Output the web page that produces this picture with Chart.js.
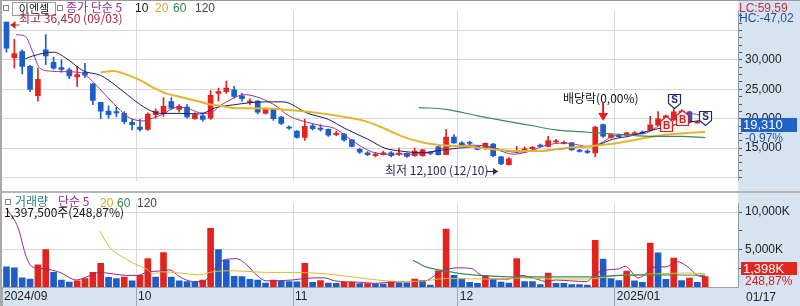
<!DOCTYPE html>
<html><head><meta charset="utf-8">
<script src="https://cdn.jsdelivr.net/npm/chart.js@4.4.1/dist/chart.umd.min.js"></script>
<style>
body{margin:0;background:#fff}
#wrap{position:relative;width:800px;height:306px;overflow:hidden;background:#fff;font-family:"Liberation Sans Narrow","Liberation Sans","Noto Sans CJK KR",sans-serif}
.a{position:absolute;white-space:nowrap;line-height:1}
canvas{position:absolute;left:0}
.k{font-family:"Noto Sans CJK KR","Liberation Sans",sans-serif}
</style></head><body>
<div id="wrap">
<div class="a" style="left:738px;top:0;width:62px;height:306px;background:#d7e3f1"></div>
<div class="a" style="left:0;top:287px;width:800px;height:19px;background:#d7e3f1"></div>
<canvas id="pc" width="800" height="191" style="top:0"></canvas>
<canvas id="vc" width="800" height="113" style="top:193px"></canvas>
<div class="a" style="left:0;top:0;width:800px;height:1px;background:#9a9a9a"></div>
<div class="a" style="left:0;top:0;width:2px;height:306px;background:#a8a8a8"></div>
<div class="a" style="left:0;top:191px;width:800px;height:2px;background:#b4b4b4"></div>

<div class="a" style="left:3px;top:5px;width:4px;height:4px;border:1px solid #888"></div>
<div class="a k" style="left:12px;top:2px;width:42px;height:12px;border:1px solid #999;background:#fff;font-size:11px;text-align:center;color:#111">이엔셀</div>
<div class="a" style="left:57px;top:5px;width:4px;height:4px;border:1px solid #888"></div>
<div class="a k" style="left:66px;top:1px;font-size:12px;color:#9a2a8a">종가 단순 5</div>
<div class="a" style="left:135px;top:2px;font-size:12px;color:#111">10</div>
<div class="a" style="left:155px;top:2px;font-size:12px;color:#d8a820">20</div>
<div class="a" style="left:173px;top:2px;font-size:12px;color:#2f7f4f">60</div>
<div class="a" style="left:195px;top:2px;font-size:12px;color:#444">120</div>
<div class="a k" style="left:19px;top:12px;font-size:12px;color:#a0283c">최고 36,450 (09/03)</div>
<div class="a k" style="left:385px;top:164px;font-size:12px;color:#2a2a5a">최저 12,100 (12/10)</div>
<div class="a k" style="left:563px;top:92px;font-size:12px;color:#111">배당락(0,00%)</div>

<div class="a" style="left:5px;top:199px;width:4px;height:4px;border:1px solid #888"></div>
<div class="a k" style="left:15px;top:195px;font-size:12px;color:#2a8080">거래량</div>
<div class="a k" style="left:58px;top:195px;font-size:12px;color:#9a2a8a">단순 5</div>
<div class="a" style="left:100px;top:197px;font-size:12px;color:#d8a820">20</div>
<div class="a" style="left:117px;top:197px;font-size:12px;color:#2f7f4f">60</div>
<div class="a" style="left:137px;top:197px;font-size:12px;color:#444">120</div>
<div class="a k" style="left:4px;top:206px;font-size:12px;color:#111">1,397,500주(248,87%)</div>

<div class="a" style="left:739px;top:2px;font-size:12px;color:#c0303a">LC:59,59</div>
<div class="a" style="left:739px;top:12px;font-size:12px;color:#1f4f9f">HC:-47,02</div>
<div class="a" style="left:741px;top:118px;width:56px;height:14px;background:#1f63c6;font-size:13px;color:#fff;padding-left:2px;box-sizing:border-box;line-height:14px">19,310</div>
<div class="a" style="left:745px;top:132px;font-size:12px;color:#2050b0">-0,97%</div>
<div class="a" style="left:741px;top:262px;width:56px;height:13px;background:#e3261f;font-size:13px;color:#fff;padding-left:2px;box-sizing:border-box;line-height:13px">1,398K</div>
<div class="a" style="left:745px;top:275px;font-size:12px;color:#d02020">248,87%</div>
<div class="a" style="left:746px;top:291px;font-size:12px;color:#222">01/17</div>
</div>
<script>
// ---- data ----
const opens  = [36450,30400,31400,28900,23900,31700,29600,28700,28300,27100,27900,25900,22800,21300,21200,20900,19400,18600,18200,20700,20900,22900,21600,22000,20000,20500,20100,24300,24600,24900,23900,22800,23000,20900,21600,20300,18600,17900,16800,18800,18400,18200,17300,17400,16400,14800,14200,13700,13900,14200,14000,14100,13700,13700,14300,15200,13900,16900,15900,16000,15300,14900,15700,13500,12200,14400,14700,14900,15500,15300,16050,15800,15900,14650,14500,14200,19000,16800,17200,17200,17400,17750,18100,18900,20200,19800,20800,21170,19300,19500];
const highs  = [36450,33500,31700,29100,28600,34300,30500,30000,28600,28900,29400,26000,22800,22200,22000,21200,19900,19900,21000,21700,23600,23600,22400,22400,21000,20900,24800,25200,26400,25500,24300,23400,23100,21800,21700,20400,18800,18000,19900,19100,19000,18300,17900,17500,16500,15000,14400,14300,14500,14400,15000,14200,15000,14800,14400,15300,18200,17300,16100,16200,15400,15900,15800,13600,13400,15300,15200,15300,15700,17000,16500,16200,16000,14800,14700,18700,19100,17400,17400,17700,17800,17900,20400,21200,20600,21700,21500,21300,19600,19700];
const lows   = [31300,28600,27600,24600,23000,29200,28400,27900,26800,25500,27000,22400,20000,20100,20300,19100,18100,17900,18000,20100,20400,21600,21100,20100,19900,19600,19900,23000,24300,23500,23000,22400,20800,20800,19700,19000,18200,16700,16300,18100,17900,17000,17100,16200,15200,14100,13700,13500,13800,13500,13700,13400,13600,13600,13900,13800,13900,15800,15400,15600,14700,14800,13500,12200,12100,14200,14300,14700,15200,15200,15900,15700,14600,14300,14100,13500,16800,16700,16800,17100,17300,17400,18000,18800,20000,19700,20500,19300,19250,19100];
const closes = [32000,31100,28900,25000,26700,30700,28600,28400,27300,27500,27400,23100,21300,20700,21000,19500,19000,18200,20800,21300,22100,21800,22100,20300,20700,19900,24000,24600,25200,23800,23400,23000,21100,21600,20000,19200,18400,16800,18700,18300,18200,17200,17500,16400,15300,14300,13900,14000,14200,13700,14100,13600,14500,14700,14100,13900,16900,15900,15600,15800,14800,15800,13700,12300,13200,14600,14850,15150,15300,16300,16250,16000,14700,14450,14250,18600,17050,17300,16950,17600,17600,17500,18950,20000,20500,21170,21300,19400,19500,19310];
const volumesK = [2680,2560,1220,1060,2970,5000,1950,940,650,820,1140,1950,3170,1300,1140,1340,820,1550,3780,1340,4600,1340,820,730,610,940,7850,5000,3580,1430,1400,1010,940,520,940,820,730,700,3170,610,850,520,490,610,620,450,460,410,400,730,570,560,1060,850,240,2160,7720,1550,1140,610,490,1550,1010,650,520,3780,730,720,330,1870,490,480,330,320,240,6220,3740,1140,850,2110,820,610,5860,4550,1010,3870,850,1180,610,1398];

// moving-average lines (candle index, value)
const ma5I  = [1.2,2.4,3.3,4.2,5.5,7.2,9.4,11,12.8,14.5,15.7,17.4,18.7,20,21.7,23,24.6,25.9,27.2,28.9,30.2,31.8,34,36.1,38.4,40,41.8,43.5,45.2,46.9,49.5,51.6,53.8,56.3,58.9,61.5,63,64.6,66.7,68.8,71,73,74.3,75.6,77.3,79.4,81.5,83.7,85.8,87.5,89];
const ma5V  = [34300,34000,31500,28700,28100,28000,27850,26300,23750,21430,20140,19630,20140,20820,21940,21790,21020,20910,22200,23490,24100,23750,22450,20400,19370,18860,18350,16800,15260,14230,13970,13970,14230,15260,15500,15300,14500,13970,14490,15500,15880,15500,15200,15770,17050,17310,17570,19370,20500,20820,20300];
const ma10I = [2.4,3.4,6,7.7,9.8,12,14,16.2,17.9,19.6,22,24.6,26.8,28.9,31,33,35.2,38.4,41,43.1,46,48.2,50.3,52.8,55.4,57.5,59.6,62,64.6,68.8,73,75.2,77.3,79.4,81.5,84,86.6,89];
const ma10V = [30180,30700,31320,30180,28130,27360,25560,23220,21680,20910,20910,20820,21940,22360,22720,22870,22870,20910,19890,18350,16540,15000,14490,14230,14640,15000,15150,15000,14340,14640,15150,15500,16540,17050,17820,18600,19370,19750];
const ma20I = [12,13.6,15.3,17,18.7,20.4,22,23.8,25.5,27.2,28.9,31,34,38.4,42.6,45.6,47.7,50.3,52.8,55.4,57.5,59.6,62,65,68,71,74.5,77.5,79.6,81.7,84.2,86.8,89];
const ma20V = [27880,28100,27500,26570,25300,24260,23750,23200,22560,22200,21840,21790,21700,21170,20400,19630,18600,17050,16030,15500,15350,15150,14800,14500,14500,15000,15350,15770,16280,16800,17310,17580,17730];
const ma60I = [52.5,56,60,64,67,70,74,77.5,80.5,84,86,89];
const ma60V = [21900,21600,20500,19500,18800,18100,17700,17400,17100,17000,17000,16800];
const vma5I = [0,1.5,2.4,3,3.8,4.9,6.8,8.9,10.2,11.9,13.6,15.3,16.6,17.9,19.6,20.8,22.1,23.8,25.1,26.3,27.6,29.3,30.6,31.9,33.1,36.5,37.3,39.4,40.5,41.8,44.8,46.9,49,51.2,53.4,54.6,55.9,57.6,59.3,60.2,61.9,64,65.5,67.5,68.8,70,71.8,73.9,75,76.5,78.1,78.8,80.5,82.7,84,85.4,86.7,88,89];
const vma5V = [10490,7850,4390,2960,2560,2440,1950,940,1340,1950,1740,1550,1550,1950,2160,2280,1340,730,730,2160,3570,3780,2960,1550,820,940,1060,1220,1220,820,650,490,650,730,820,1550,2280,2560,2440,1740,1060,1060,1550,1060,730,940,820,730,1740,2280,2440,2770,1220,2680,2680,3380,2770,1550,1340];
const vma20I = [11.9,13.2,14.5,16.2,17.9,18.7,19.6,22.1,24.6,26.3,28.9,31.4,33.1,36.5,40.8,45,48.3,51.2,53.4,55.9,58.5,61.9,65.7,69.6,73.9,78.1,82.4,86.7,89];
const vma20V = [7440,5210,4190,3170,2350,1750,2040,1870,1630,2040,2160,2040,1950,1950,1740,1220,820,730,820,1140,1100,1060,1220,1060,1060,1550,1740,1870,1740];
const vma60I = [51.8,53.4,55.9,57.6,61.9,66,70,74,78.1,82.4,86,89];
const vma60V = [3580,2680,2160,1830,1460,1340,1340,1340,1550,1630,1600,1550];

const monthTicks  = [-0.573,16.5,36.5,57.5,77.5];
const monthLabels = ['2024/09','10','11','12','2025/01'];
const priceLabels = [15000,20000,25000,30000];
const sigIdx  = [84,85,86,89];
const sigType = ['B','S','B','S'];
const sigTip  = [20480,21790,21480,19010];
const highIdx = 0, lowIdx = 63, divIdx = 76;

// ---- chart ----
const RED='#e3231c', BLUE='#1d5dc9';
const XMIN=-0.573, XMAX=93.185;
const FONT='"Liberation Sans Narrow","Liberation Sans",sans-serif';
Chart.defaults.font.family=FONT; Chart.defaults.font.size=12; Chart.defaults.color='#222';
const cCol = closes.map((c,i)=> c>=opens[i]?RED:BLUE);
const vCol = volumesK.map((v,i)=> i>0 && v>volumesK[i-1]?RED:BLUE);
const pts=(I,V)=>I.map((x,k)=>({x,y:V[k]}));
const line=(d,c,w)=>({type:'line',data:d,borderColor:c,borderWidth:w,pointRadius:0,cubicInterpolationMode:'monotone',order:1});

const marks={id:'marks',afterDatasetsDraw(ch){
  const {ctx,scales:{x,y}}=ch; ctx.save();
  sigIdx.forEach((idx,k)=>{
    const cx=Math.round(x.getPixelForValue(idx))+0.5, t=Math.round(y.getPixelForValue(sigTip[k]))+0.5;
    ctx.beginPath();
    if(sigType[k]==='S'){ctx.moveTo(cx-6,t-14);ctx.lineTo(cx+6,t-14);ctx.lineTo(cx+6,t-5);ctx.lineTo(cx,t);ctx.lineTo(cx-6,t-5);}
    else {ctx.moveTo(cx,t);ctx.lineTo(cx+6,t+5);ctx.lineTo(cx+6,t+15);ctx.lineTo(cx-6,t+15);ctx.lineTo(cx-6,t+5);}
    ctx.closePath();
    const S=sigType[k]==='S';
    ctx.fillStyle=S?'#fff':'#fff2f2';ctx.fill();ctx.lineWidth=1.2;ctx.strokeStyle=S?'#1e2a70':'#d42020';ctx.stroke();
    ctx.fillStyle=S?'#1e2a70':'#d42020';ctx.font='bold 10px "Liberation Sans",sans-serif';ctx.textAlign='center';ctx.textBaseline='middle';
    ctx.fillText(sigType[k],cx,S?t-8.5:t+9.5);
  });
  const dx=x.getPixelForValue(divIdx), dt=y.getPixelForValue(highs[divIdx])-3;
  ctx.fillStyle='#e02020';ctx.fillRect(dx-1,dt-18,2,11);
  ctx.beginPath();ctx.moveTo(dx-5,dt-8);ctx.lineTo(dx+5,dt-8);ctx.lineTo(dx,dt);ctx.closePath();ctx.fill();
  const hx=x.getPixelForValue(highIdx)+4, hy=y.getPixelForValue(highs[highIdx])+3;
  ctx.strokeStyle='#d02020';ctx.lineWidth=1;ctx.beginPath();ctx.moveTo(hx,hy);ctx.lineTo(hx+9,hy);ctx.stroke();
  ctx.fillStyle='#d02020';ctx.beginPath();ctx.moveTo(hx,hy);ctx.lineTo(hx+5,hy-4);ctx.lineTo(hx+5,hy+4);ctx.closePath();ctx.fill();
  const lx=x.getPixelForValue(lowIdx)-3, ly=171.5;
  ctx.strokeStyle='#2a2a5a';ctx.beginPath();ctx.moveTo(lx-12,ly);ctx.lineTo(lx,ly);ctx.stroke();
  ctx.fillStyle='#2a2a5a';ctx.beginPath();ctx.moveTo(lx,ly);ctx.lineTo(lx-5,ly-3.5);ctx.lineTo(lx-5,ly+3.5);ctx.closePath();ctx.fill();
  ctx.restore();
}};

const xCommon={type:'linear',min:XMIN,max:XMAX,offset:false};
new Chart(document.getElementById('pc'),{
  type:'bar',
  data:{datasets:[
    {data:opens.map((o,i)=>({x:i,y:[lows[i],highs[i]]})),backgroundColor:cCol,barThickness:1,grouped:false,order:3},
    {data:opens.map((o,i)=>({x:i,y:[o,closes[i]]})),backgroundColor:cCol,barThickness:5,minBarLength:1,grouped:false,order:2},
    line(pts(ma60I,ma60V),'#3b8a5e',1.2),
    line(pts(ma20I,ma20V),'#e6b530',2),
    line(pts(ma10I,ma10V),'#1c1c66',1),
    line(pts(ma5I,ma5V),'#a0358e',1)
  ]},
  options:{responsive:false,animation:false,events:[],
    layout:{padding:{left:2,top:3,right:0,bottom:0}},
    plugins:{legend:{display:false},tooltip:{enabled:false}},
    scales:{
      x:{...xCommon,ticks:{display:false},grid:{color:'#d8d8d8',drawTicks:false,offset:false},border:{display:false},
         afterBuildTicks:s=>{s.ticks=monthTicks.slice(1).map(v=>({value:v}))},afterFit:s=>{s.height=0}},
      y:{position:'right',min:9444,max:38456,
         afterBuildTicks:s=>{const t=[];for(let v=10000;v<=38456;v+=1250)t.push({value:v});s.ticks=t;},
         ticks:{padding:3,color:'#222',autoSkip:false,callback:v=>priceLabels.includes(v)?v.toLocaleString('en-US'):''},
         grid:{color:c=>c.tick&&c.tick.value%5000===0?'#d8d8d8':'rgba(0,0,0,0)',tickColor:'#555',tickLength:4},
         border:{display:true,color:'#8c9bb0'},afterFit:s=>{s.width=62}}
    }},
  plugins:[marks]
});

new Chart(document.getElementById('vc'),{
  type:'bar',
  data:{datasets:[
    {data:volumesK.map((v,i)=>({x:i,y:v})),backgroundColor:vCol,barThickness:6,grouped:false,order:2},
    line(pts(vma60I,vma60V),'#3b8a5e',1.2),
    line(pts(vma20I,vma20V),'#e6b530',1),
    line(pts(vma5I,vma5V),'#8e2a80',1)
  ]},
  options:{responsive:false,animation:false,events:[],
    layout:{padding:{left:2,top:0,right:0,bottom:0}},
    plugins:{legend:{display:false},tooltip:{enabled:false}},
    scales:{
      x:{...xCommon,afterBuildTicks:s=>{s.ticks=monthTicks.map(v=>({value:v}))},
         ticks:{display:true,align:'start',padding:-17,labelOffset:2,autoSkip:false,maxRotation:0,font:{size:12},color:'#222',
                callback:(v,i)=>monthLabels[i]},
         grid:{color:c=>c.index===0?'rgba(0,0,0,0)':'#d8d8d8',tickColor:'#a0a8b4',tickLength:19,offset:false},
         border:{display:true,color:'#a0a0a0'},afterFit:s=>{s.height=19}},
      y:{position:'right',min:0,max:11190,
         afterBuildTicks:s=>{s.ticks=[2500,5000,7500,10000].map(v=>({value:v}))},
         ticks:{padding:3,color:'#222',autoSkip:false,callback:v=>v%5000===0?v.toLocaleString('en-US')+'K':''},
         grid:{color:c=>c.tick&&c.tick.value%5000===0?'#d8d8d8':'rgba(0,0,0,0)',tickColor:'#555',tickLength:4},
         border:{display:true,color:'#8c9bb0'},afterFit:s=>{s.width=62}}
    }}
});
</script>
</body></html>
